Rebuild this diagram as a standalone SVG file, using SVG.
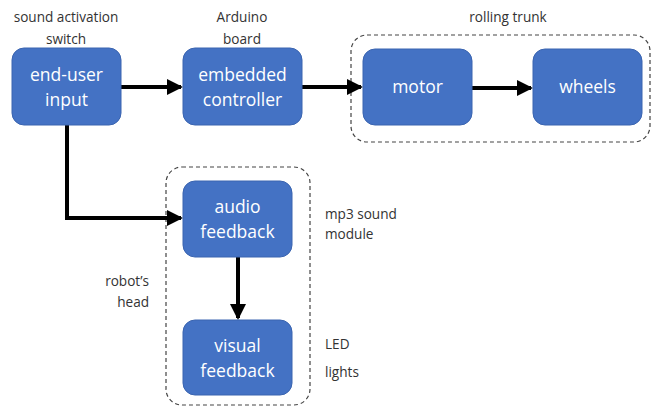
<svg xmlns="http://www.w3.org/2000/svg" width="652" height="407" viewBox="0 0 652 407">
<defs>
<marker id="ah" markerWidth="4" markerHeight="4" refX="3.5" refY="2" orient="auto" markerUnits="strokeWidth">
<path d="M0,0 L4,2 L0,4 z" fill="#000"/>
</marker>
<style>
.node{fill:#4472C4;stroke:#3A64B0;stroke-width:1}
.nt{font-family:"Open Sans","Noto Sans",sans-serif;font-size:17.5px;fill:#fff;text-anchor:middle}
.lb{font-family:"Open Sans","Noto Sans",sans-serif;font-size:13.6px;fill:#333}
.grp{fill:none;stroke:#444;stroke-width:1.2;stroke-dasharray:4 3}
.conn{fill:none;stroke:#000;stroke-width:4;marker-end:url(#ah)}
</style>
</defs>
<rect width="652" height="407" fill="#fff"/>
<g id="groups">
<rect class="grp" x="351" y="35" width="299" height="107" rx="16"/>
<rect class="grp" x="166" y="167" width="144" height="238" rx="16"/>
</g>
<g id="labels">
<text class="lb" x="66" y="22" text-anchor="middle">sound activation</text>
<text class="lb" x="66" y="44" text-anchor="middle">switch</text>
<text class="lb" x="242" y="22" text-anchor="middle">Arduino</text>
<text class="lb" x="242" y="44" text-anchor="middle">board</text>
<text class="lb" x="508" y="22" text-anchor="middle">rolling trunk</text>
<text class="lb" x="325" y="219">mp3 sound</text>
<text class="lb" x="325" y="239">module</text>
<text class="lb" x="149" y="286" text-anchor="end">robot’s</text>
<text class="lb" x="149" y="307" text-anchor="end">head</text>
<text class="lb" x="325" y="349">LED</text>
<text class="lb" x="325" y="377">lights</text>
</g>
<g id="connectors">
<line class="conn" x1="121" y1="87" x2="181" y2="87"/>
<line class="conn" x1="302" y1="87" x2="361" y2="87"/>
<line class="conn" x1="472" y1="88" x2="531" y2="88"/>
<polyline class="conn" points="67,125 67,218 181,218"/>
<line class="conn" x1="238" y1="257" x2="238" y2="318"/>
</g>
<g id="n-input">
<rect class="node" x="12" y="48" width="109" height="77" rx="12"/>
<text class="nt" x="66.5" y="81">end-user</text>
<text class="nt" x="66.5" y="106">input</text>
</g>
<g id="n-controller">
<rect class="node" x="183" y="48" width="119" height="77" rx="12"/>
<text class="nt" x="242.5" y="81">embedded</text>
<text class="nt" x="242.5" y="106">controller</text>
</g>
<g id="n-motor">
<rect class="node" x="363" y="49" width="109" height="76" rx="12"/>
<text class="nt" x="417.5" y="93">motor</text>
</g>
<g id="n-wheels">
<rect class="node" x="533" y="49" width="109" height="76" rx="12"/>
<text class="nt" x="587.5" y="93">wheels</text>
</g>
<g id="n-audio">
<rect class="node" x="183" y="181" width="109" height="76" rx="12"/>
<text class="nt" x="237.5" y="213">audio</text>
<text class="nt" x="237.5" y="238">feedback</text>
</g>
<g id="n-visual">
<rect class="node" x="183" y="320" width="109" height="75" rx="12"/>
<text class="nt" x="237.5" y="352">visual</text>
<text class="nt" x="237.5" y="377">feedback</text>
</g>
</svg>
